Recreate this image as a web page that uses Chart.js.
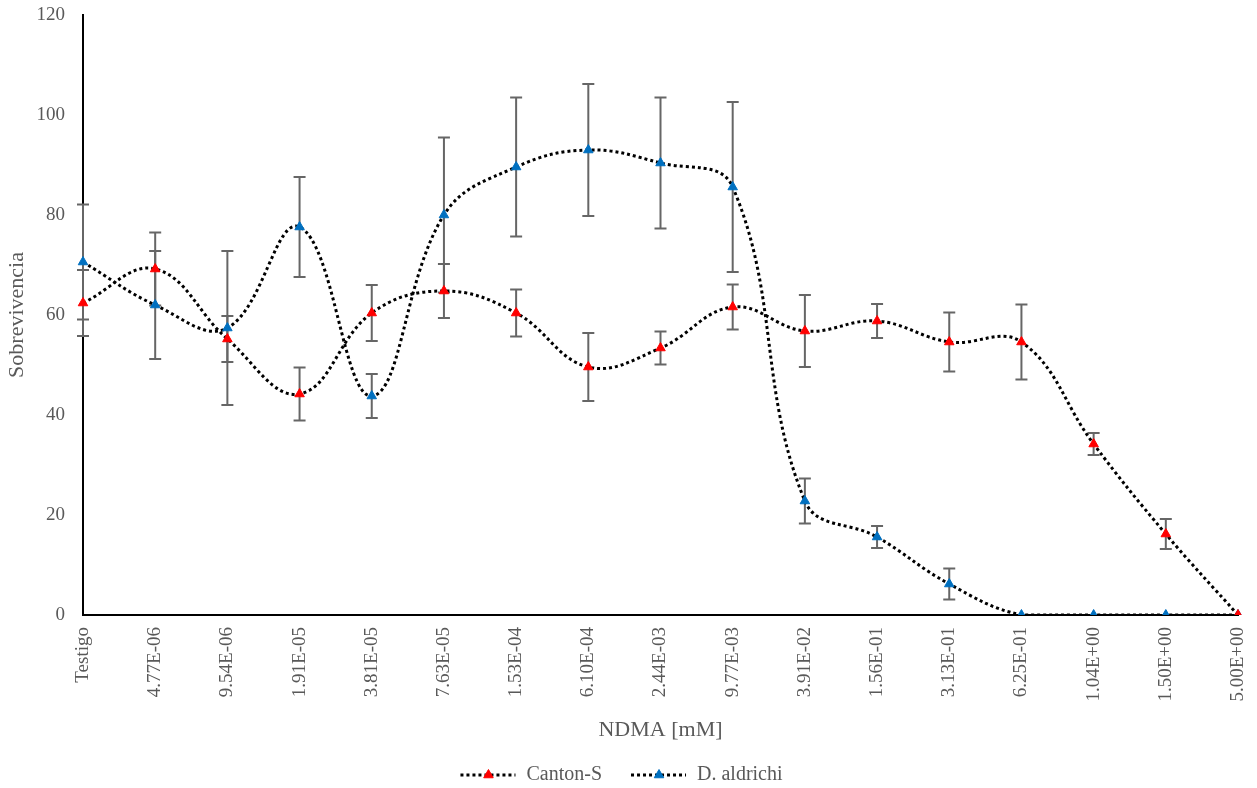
<!DOCTYPE html>
<html lang="es">
<head>
<meta charset="utf-8">
<title>Sobrevivencia vs NDMA</title>
<script src="https://cdn.jsdelivr.net/npm/chart.js@4.4.1/dist/chart.umd.min.js"></script>
<style>
    html, body { margin: 0; padding: 0; background: #fff; }
    #wrap { width: 1257px; height: 788px; position: relative; }
</style>
</head>
<body>
<div id="wrap"><canvas id="survivalChart"></canvas></div>
<script>
// Concentraciones de NDMA (mM)
const doses = ['Testigo', '4.77E-06', '9.54E-06', '1.91E-05', '3.81E-05', '7.63E-05', '1.53E-04',
    '6.10E-04', '2.44E-03', '9.77E-03', '3.91E-02', '1.56E-01', '3.13E-01', '6.25E-01',
    '1.04E+00', '1.50E+00', '5.00E+00'];

// Sobrevivencia promedio y desviacion de cada cepa
const cantonS = [62.4, 69.2, 55.2, 44.2, 60.4, 64.8, 60.4, 49.6, 53.4, 61.6, 56.8, 58.8, 54.6, 54.6, 34.2, 16.2, 0];
const cantonSErr = [6.6, 7.3, 4.6, 5.3, 5.6, 5.4, 4.7, 6.8, 3.3, 4.5, 7.2, 3.4, 5.9, 7.5, 2.2, 3.0, 0];
const aldrichi = [70.6, 62.0, 57.4, 77.6, 43.8, 80.0, 89.6, 93.0, 90.4, 85.6, 22.8, 15.6, 6.2, 0, 0, 0, 0];
const aldrichiErr = [11.5, 10.8, 15.4, 10.0, 4.4, 15.5, 13.9, 13.2, 13.1, 17.0, 4.5, 2.2, 3.1, 0, 0, 0, 0];

const yTicks = [0, 20, 40, 60, 80, 100, 120];

const FONT = "'Liberation Serif', 'Times New Roman', serif";
const GREY = '#595959';

// barras de error verticales con remate
const errorBars = {
    id: 'errorBars',
    beforeDatasetsDraw(chart) {
        const ctx = chart.ctx;
        const y = chart.scales.y;
        ctx.save();
        ctx.strokeStyle = '#666666';
        ctx.lineWidth = 2;
        chart.data.datasets.forEach((ds, i) => {
            const meta = chart.getDatasetMeta(i);
            ds.errors.forEach((e, j) => {
                if (!e) return;
                const x = meta.data[j].x;
                const top = y.getPixelForValue(ds.data[j] + e);
                const bot = y.getPixelForValue(ds.data[j] - e);
                ctx.beginPath();
                ctx.moveTo(x, top); ctx.lineTo(x, bot);
                ctx.moveTo(x - 6, top); ctx.lineTo(x + 6, top);
                ctx.moveTo(x - 6, bot); ctx.lineTo(x + 6, bot);
                ctx.stroke();
            });
        });
        ctx.restore();
    }
};

// leyenda inferior: linea punteada con el marcador al centro
const dottedLegend = {
    id: 'dottedLegend',
    afterDraw(chart) {
        const ctx = chart.ctx;
        const yMid = 775;
        ctx.save();
        ctx.font = '20px ' + FONT;
        const items = chart.data.datasets.map(ds => ({ ds, w: 55 + 11 + ctx.measureText(ds.label).width }));
        const total = items.reduce((s, it) => s + it.w, 0) + 29 * (items.length - 1);
        let x = (chart.width - total) / 2 - 7;
        items.forEach(({ ds, w }) => {
            ctx.strokeStyle = '#000';
            ctx.lineWidth = 3;
            ctx.setLineDash([3, 3]);
            ctx.beginPath();
            ctx.moveTo(x, yMid); ctx.lineTo(x + 55, yMid);
            ctx.stroke();
            ctx.setLineDash([]);
            ctx.fillStyle = ds.pointBackgroundColor;
            ctx.strokeStyle = ds.pointBorderColor;
            ctx.lineWidth = 1;
            const r = 5.5, cx = x + 28;
            ctx.beginPath();
            ctx.moveTo(cx, yMid - r);
            ctx.lineTo(cx + r * 0.866, yMid + r * 0.5);
            ctx.lineTo(cx - r * 0.866, yMid + r * 0.5);
            ctx.closePath();
            ctx.fill();
            ctx.stroke();
            ctx.fillStyle = GREY;
            ctx.textBaseline = 'middle';
            ctx.fillText(ds.label, x + 66, yMid);
            x += w + 29;
        });
        ctx.restore();
    }
};

const series = (label, data, errors, color) => ({
    label,
    data,
    errors,
    borderColor: '#000',
    borderWidth: 3,
    borderDash: [3, 3],
    tension: 0.4,
    fill: false,
    pointStyle: 'triangle',
    pointRadius: 5.5,
    pointHoverRadius: 5.5,
    pointBackgroundColor: color,
    pointBorderColor: color,
    pointBorderWidth: 1
});

new Chart(document.getElementById('survivalChart'), {
    type: 'line',
    data: {
        labels: doses,
        datasets: [
            series('Canton-S', cantonS, cantonSErr, '#FF0000'),
            series('D. aldrichi', aldrichi, aldrichiErr, '#0070C0')
        ]
    },
    options: {
        responsive: true,
        maintainAspectRatio: false,
        animation: false,
        layout: { padding: { top: 15, right: 19, bottom: 45, left: 0 } },
        plugins: {
            legend: { display: false },
            tooltip: { enabled: false }
        },
        scales: {
            x: {
                offset: false,
                grid: { display: false, drawTicks: false },
                border: { display: true, color: '#000', width: 2 },
                ticks: {
                    autoSkip: false,
                    maxRotation: 90,
                    minRotation: 90,
                    padding: 12,
                    color: GREY,
                    font: { family: FONT, size: 19 }
                },
                title: {
                    display: true,
                    text: 'NDMA [mM]',
                    color: GREY,
                    font: { family: FONT, size: 22 },
                    padding: { top: 0, bottom: 0 }
                },
                afterFit(scale) {
                    scale.height = 128;
                    scale.paddingLeft = 0;
                    scale.paddingRight = 0;
                }
            },
            y: {
                min: 0,
                max: 120,
                afterBuildTicks(scale) { scale.ticks = yTicks.map(v => ({ value: v })); },
                grid: { display: false, drawTicks: false },
                border: { display: true, color: '#000', width: 2 },
                ticks: {
                    padding: 18,
                    color: GREY,
                    font: { family: FONT, size: 19 }
                },
                title: {
                    display: true,
                    text: 'Sobrevivencia',
                    color: GREY,
                    font: { family: FONT, size: 22 },
                    padding: { top: 4, bottom: 0 }
                },
                afterFit(scale) {
                    scale.width = 83;
                    scale.paddingTop = 0;
                    scale.paddingBottom = 0;
                }
            }
        }
    },
    plugins: [errorBars, dottedLegend]
});
</script>
</body>
</html>
